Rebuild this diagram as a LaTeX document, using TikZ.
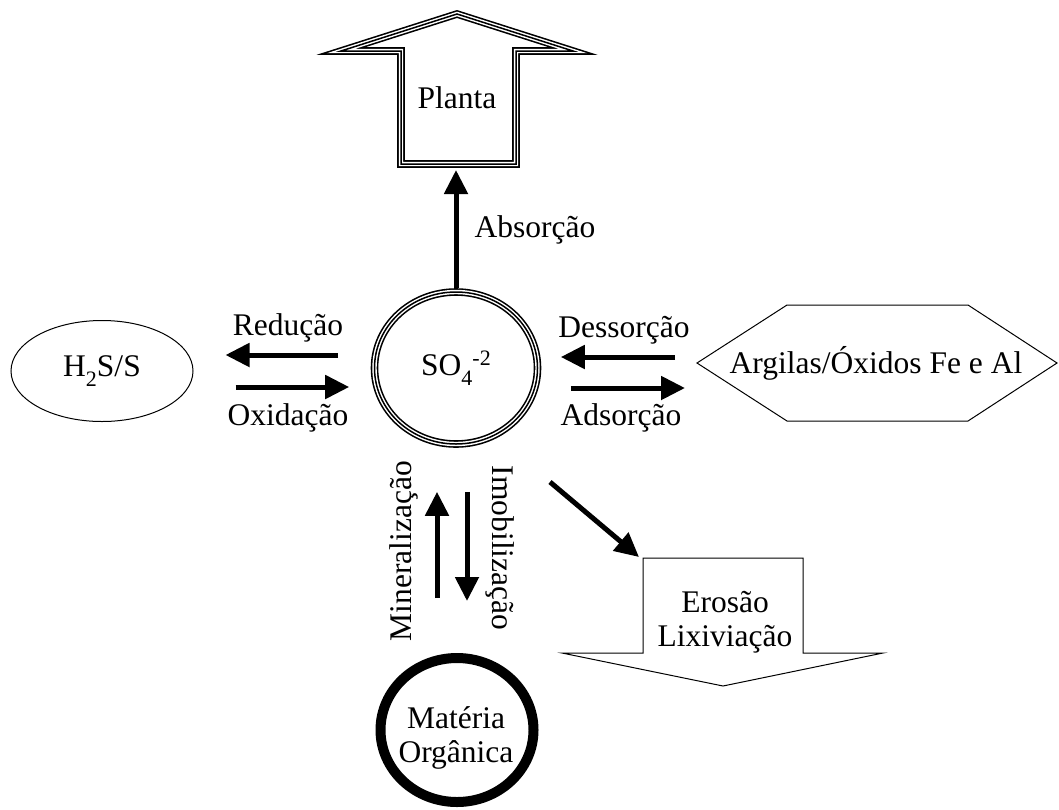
\documentclass[tikz,border=0pt]{standalone}
\usepackage{fontspec}
\setmainfont{Liberation Serif}
\usetikzlibrary{arrows.meta,shapes.geometric,calc}
\newcommand\lowidx[1]{\raisebox{-10pt}{\fontsize{22}{22}\selectfont #1}}
\newcommand\highidx[1]{\raisebox{10pt}{\fontsize{22}{22}\selectfont #1}}
\begin{document}
\begin{tikzpicture}[x=1pt,y=-1pt,
  every node/.style={font=\fontsize{31.5}{34.5}\selectfont, inner sep=0pt, align=center},
  flow/.style={line width=5pt, -{Triangle[length=24pt,width=23pt]}},
  outline/.style={draw, line width=1pt},
  triple/.style={draw, line width=7.6pt, postaction={draw=white, line width=4.4pt}, postaction={draw=black, line width=1.5pt}},
  lbl/.style={anchor=base},
]
\useasboundingbox (0,0) rectangle (1059,809);

% central sulfate
\node[ellipse, triple, minimum width=163pt, minimum height=152pt] (so4) at (456,368) {SO\lowidx{4}\highidx{-2}};

% H2S/S
\node[ellipse, outline, minimum width=182pt, minimum height=101pt] (h2s) at (102,371) {H\lowidx{2}S/S};

% hexagon
\coordinate (argw) at (697,363);
\draw[outline] (argw) -- (787,305) -- (968,305) -- (1057,363) -- (968,421) -- (787,421) -- cycle;
\node[lbl] (arg) at (876,373) {Argilas/Óxidos Fe e Al};

% Planta arrow
\draw[triple, line join=miter] (457,14) -- (573,51) -- (516,51) -- (516,164) -- (401,164) -- (401,51) -- (341,51) -- cycle;
\node[lbl] (planta) at (457,108) {Planta};
\coordinate (pbase) at (457,170);

% Materia organica
\node[ellipse, draw, line width=10pt, minimum width=153pt, minimum height=144pt] (mo) at (457,730) {};
\node (motext) at (456,738) {Matéria\\Orgânica};

% Erosao arrow
\coordinate (erotl) at (643,558);
\draw[outline] (erotl) -- (803,558) -- (803,653) -- (883,653) -- (723,686) -- (562,653) -- (643,653) -- cycle;
\node (ero) at (725,622) {Erosão\\Lixiviação};

% connectors
\draw[flow] (so4.north) -- (so4.north |- pbase);
\draw[flow] ($(so4.west)+(-32.5,-13)$) -- ($(h2s.east)+(32,-16)$);
\draw[flow] ($(h2s.east)+(42,16)$) -- ($(so4.west)+(-21.5,19)$);
\draw[flow] ($(argw)+(-22,-6)$) -- ($(so4.east)+(19.5,-11)$);
\draw[flow] ($(so4.east)+(29.5,20)$) -- ($(argw)+(-12,25)$);
\draw[flow] ($(mo.north)+(-20,-55)$) -- ($(so4.south)+(-19,44)$);
\draw[flow] ($(so4.south)+(11,44)$) -- ($(mo.north)+(10,-52)$);
\draw[flow] ($(so4.center)+(94,114)$) -- ($(erotl)+(-4,-1)$);

% labels
\node[lbl] (lred) at (288,335) {Redução};
\node[lbl] (lox) at (288,425) {Oxidação};
\node[lbl] (ldes) at (624,337) {Dessorção};
\node[lbl] (lads) at (621,425) {Adsorção};
\node[lbl] (labs) at (535,237) {Absorção};
\node[rotate=90] (lmin) at (404,551) {Mineralização};
\node[rotate=-90] (limo) at (500,548) {Imobilização};
\end{tikzpicture}
\end{document}
